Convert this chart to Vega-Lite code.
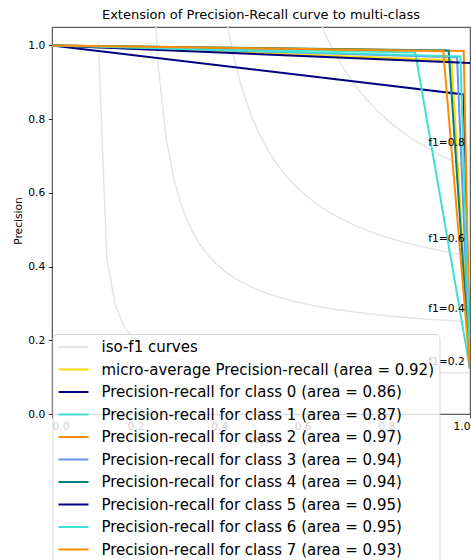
{
  "$schema": "https://vega.github.io/schema/vega-lite/v6.json",
  "width": 418,
  "height": 387,
  "autosize": {"type": "none"},
  "padding": {"left": 52, "top": 27, "right": 1, "bottom": 146},
  "background": "white",
  "title": {"text": "Extension of Precision-Recall curve to multi-class", "fontSize": 13, "fontWeight": "normal", "color": "#000", "anchor": "middle", "frame": "group", "offset": 5},
  "config": {
    "font": "DejaVu Sans",
    "view": {"stroke": "#000", "strokeWidth": 0.8},
    "axis": {"labelFontSize": 10.7, "titleFontSize": 10.7, "titleFontWeight": "normal", "labelColor": "#000", "titleColor": "#000", "tickColor": "#000", "tickWidth": 0.8, "tickSize": 3.7, "labelPadding": 3.5, "domain": false, "grid": false, "titlePadding": 4}
  },
  "datasets": {
    "iso": [
      {"series": "iso-f1 curves", "f": 0.2, "x": 0.1110, "y": 1.0074},
      {"series": "iso-f1 curves", "f": 0.2, "x": 0.1312, "y": 0.4203},
      {"series": "iso-f1 curves", "f": 0.2, "x": 0.1514, "y": 0.2944},
      {"series": "iso-f1 curves", "f": 0.2, "x": 0.1716, "y": 0.2396},
      {"series": "iso-f1 curves", "f": 0.2, "x": 0.1918, "y": 0.2089},
      {"series": "iso-f1 curves", "f": 0.2, "x": 0.2120, "y": 0.1893},
      {"series": "iso-f1 curves", "f": 0.2, "x": 0.2322, "y": 0.1756},
      {"series": "iso-f1 curves", "f": 0.2, "x": 0.2524, "y": 0.1656},
      {"series": "iso-f1 curves", "f": 0.2, "x": 0.2727, "y": 0.1579},
      {"series": "iso-f1 curves", "f": 0.2, "x": 0.2929, "y": 0.1519},
      {"series": "iso-f1 curves", "f": 0.2, "x": 0.3131, "y": 0.1469},
      {"series": "iso-f1 curves", "f": 0.2, "x": 0.3333, "y": 0.1429},
      {"series": "iso-f1 curves", "f": 0.2, "x": 0.3535, "y": 0.1395},
      {"series": "iso-f1 curves", "f": 0.2, "x": 0.3737, "y": 0.1365},
      {"series": "iso-f1 curves", "f": 0.2, "x": 0.3939, "y": 0.1340},
      {"series": "iso-f1 curves", "f": 0.2, "x": 0.4141, "y": 0.1318},
      {"series": "iso-f1 curves", "f": 0.2, "x": 0.4343, "y": 0.1299},
      {"series": "iso-f1 curves", "f": 0.2, "x": 0.4545, "y": 0.1282},
      {"series": "iso-f1 curves", "f": 0.2, "x": 0.4747, "y": 0.1267},
      {"series": "iso-f1 curves", "f": 0.2, "x": 0.4949, "y": 0.1253},
      {"series": "iso-f1 curves", "f": 0.2, "x": 0.5151, "y": 0.1241},
      {"series": "iso-f1 curves", "f": 0.2, "x": 0.5353, "y": 0.1230},
      {"series": "iso-f1 curves", "f": 0.2, "x": 0.5555, "y": 0.1220},
      {"series": "iso-f1 curves", "f": 0.2, "x": 0.5757, "y": 0.1210},
      {"series": "iso-f1 curves", "f": 0.2, "x": 0.5959, "y": 0.1202},
      {"series": "iso-f1 curves", "f": 0.2, "x": 0.6161, "y": 0.1194},
      {"series": "iso-f1 curves", "f": 0.2, "x": 0.6363, "y": 0.1186},
      {"series": "iso-f1 curves", "f": 0.2, "x": 0.6565, "y": 0.1180},
      {"series": "iso-f1 curves", "f": 0.2, "x": 0.6767, "y": 0.1173},
      {"series": "iso-f1 curves", "f": 0.2, "x": 0.6969, "y": 0.1168},
      {"series": "iso-f1 curves", "f": 0.2, "x": 0.7171, "y": 0.1162},
      {"series": "iso-f1 curves", "f": 0.2, "x": 0.7373, "y": 0.1157},
      {"series": "iso-f1 curves", "f": 0.2, "x": 0.7576, "y": 0.1152},
      {"series": "iso-f1 curves", "f": 0.2, "x": 0.7778, "y": 0.1148},
      {"series": "iso-f1 curves", "f": 0.2, "x": 0.7980, "y": 0.1143},
      {"series": "iso-f1 curves", "f": 0.2, "x": 0.8182, "y": 0.1139},
      {"series": "iso-f1 curves", "f": 0.2, "x": 0.8384, "y": 0.1135},
      {"series": "iso-f1 curves", "f": 0.2, "x": 0.8586, "y": 0.1132},
      {"series": "iso-f1 curves", "f": 0.2, "x": 0.8788, "y": 0.1128},
      {"series": "iso-f1 curves", "f": 0.2, "x": 0.8990, "y": 0.1125},
      {"series": "iso-f1 curves", "f": 0.2, "x": 0.9192, "y": 0.1122},
      {"series": "iso-f1 curves", "f": 0.2, "x": 0.9394, "y": 0.1119},
      {"series": "iso-f1 curves", "f": 0.2, "x": 0.9596, "y": 0.1116},
      {"series": "iso-f1 curves", "f": 0.2, "x": 0.9798, "y": 0.1114},
      {"series": "iso-f1 curves", "f": 0.2, "x": 1.0, "y": 0.1111},
      {"series": "iso-f1 curves", "f": 0.4, "x": 0.2322, "y": 1.4407},
      {"series": "iso-f1 curves", "f": 0.4, "x": 0.2524, "y": 0.9626},
      {"series": "iso-f1 curves", "f": 0.4, "x": 0.2727, "y": 0.7506},
      {"series": "iso-f1 curves", "f": 0.4, "x": 0.2929, "y": 0.6308},
      {"series": "iso-f1 curves", "f": 0.4, "x": 0.3131, "y": 0.5538},
      {"series": "iso-f1 curves", "f": 0.4, "x": 0.3333, "y": 0.5001},
      {"series": "iso-f1 curves", "f": 0.4, "x": 0.3535, "y": 0.4606},
      {"series": "iso-f1 curves", "f": 0.4, "x": 0.3737, "y": 0.4303},
      {"series": "iso-f1 curves", "f": 0.4, "x": 0.3939, "y": 0.4063},
      {"series": "iso-f1 curves", "f": 0.4, "x": 0.4141, "y": 0.3868},
      {"series": "iso-f1 curves", "f": 0.4, "x": 0.4343, "y": 0.3707},
      {"series": "iso-f1 curves", "f": 0.4, "x": 0.4545, "y": 0.3572},
      {"series": "iso-f1 curves", "f": 0.4, "x": 0.4747, "y": 0.3456},
      {"series": "iso-f1 curves", "f": 0.4, "x": 0.4949, "y": 0.3356},
      {"series": "iso-f1 curves", "f": 0.4, "x": 0.5151, "y": 0.3269},
      {"series": "iso-f1 curves", "f": 0.4, "x": 0.5353, "y": 0.3193},
      {"series": "iso-f1 curves", "f": 0.4, "x": 0.5555, "y": 0.3125},
      {"series": "iso-f1 curves", "f": 0.4, "x": 0.5757, "y": 0.3065},
      {"series": "iso-f1 curves", "f": 0.4, "x": 0.5959, "y": 0.3010},
      {"series": "iso-f1 curves", "f": 0.4, "x": 0.6161, "y": 0.2961},
      {"series": "iso-f1 curves", "f": 0.4, "x": 0.6363, "y": 0.2917},
      {"series": "iso-f1 curves", "f": 0.4, "x": 0.6565, "y": 0.2876},
      {"series": "iso-f1 curves", "f": 0.4, "x": 0.6767, "y": 0.2839},
      {"series": "iso-f1 curves", "f": 0.4, "x": 0.6969, "y": 0.2805},
      {"series": "iso-f1 curves", "f": 0.4, "x": 0.7171, "y": 0.2774},
      {"series": "iso-f1 curves", "f": 0.4, "x": 0.7373, "y": 0.2744},
      {"series": "iso-f1 curves", "f": 0.4, "x": 0.7576, "y": 0.2717},
      {"series": "iso-f1 curves", "f": 0.4, "x": 0.7778, "y": 0.2692},
      {"series": "iso-f1 curves", "f": 0.4, "x": 0.7980, "y": 0.2669},
      {"series": "iso-f1 curves", "f": 0.4, "x": 0.8182, "y": 0.2647},
      {"series": "iso-f1 curves", "f": 0.4, "x": 0.8384, "y": 0.2627},
      {"series": "iso-f1 curves", "f": 0.4, "x": 0.8586, "y": 0.2607},
      {"series": "iso-f1 curves", "f": 0.4, "x": 0.8788, "y": 0.2589},
      {"series": "iso-f1 curves", "f": 0.4, "x": 0.8990, "y": 0.2572},
      {"series": "iso-f1 curves", "f": 0.4, "x": 0.9192, "y": 0.2556},
      {"series": "iso-f1 curves", "f": 0.4, "x": 0.9394, "y": 0.2541},
      {"series": "iso-f1 curves", "f": 0.4, "x": 0.9596, "y": 0.2527},
      {"series": "iso-f1 curves", "f": 0.4, "x": 0.9798, "y": 0.2513},
      {"series": "iso-f1 curves", "f": 0.4, "x": 1.0, "y": 0.25},
      {"series": "iso-f1 curves", "f": 0.6, "x": 0.3939, "y": 1.2587},
      {"series": "iso-f1 curves", "f": 0.6, "x": 0.4141, "y": 1.0889},
      {"series": "iso-f1 curves", "f": 0.6, "x": 0.4343, "y": 0.9702},
      {"series": "iso-f1 curves", "f": 0.6, "x": 0.4545, "y": 0.8826},
      {"series": "iso-f1 curves", "f": 0.6, "x": 0.4747, "y": 0.8152},
      {"series": "iso-f1 curves", "f": 0.6, "x": 0.4949, "y": 0.7618},
      {"series": "iso-f1 curves", "f": 0.6, "x": 0.5151, "y": 0.7184},
      {"series": "iso-f1 curves", "f": 0.6, "x": 0.5353, "y": 0.6825},
      {"series": "iso-f1 curves", "f": 0.6, "x": 0.5555, "y": 0.6522},
      {"series": "iso-f1 curves", "f": 0.6, "x": 0.5757, "y": 0.6264},
      {"series": "iso-f1 curves", "f": 0.6, "x": 0.5959, "y": 0.6041},
      {"series": "iso-f1 curves", "f": 0.6, "x": 0.6161, "y": 0.5847},
      {"series": "iso-f1 curves", "f": 0.6, "x": 0.6363, "y": 0.5676},
      {"series": "iso-f1 curves", "f": 0.6, "x": 0.6565, "y": 0.5524},
      {"series": "iso-f1 curves", "f": 0.6, "x": 0.6767, "y": 0.5389},
      {"series": "iso-f1 curves", "f": 0.6, "x": 0.6969, "y": 0.5267},
      {"series": "iso-f1 curves", "f": 0.6, "x": 0.7171, "y": 0.5158},
      {"series": "iso-f1 curves", "f": 0.6, "x": 0.7373, "y": 0.5058},
      {"series": "iso-f1 curves", "f": 0.6, "x": 0.7576, "y": 0.4967},
      {"series": "iso-f1 curves", "f": 0.6, "x": 0.7778, "y": 0.4884},
      {"series": "iso-f1 curves", "f": 0.6, "x": 0.7980, "y": 0.4807},
      {"series": "iso-f1 curves", "f": 0.6, "x": 0.8182, "y": 0.4737},
      {"series": "iso-f1 curves", "f": 0.6, "x": 0.8384, "y": 0.4672},
      {"series": "iso-f1 curves", "f": 0.6, "x": 0.8586, "y": 0.4611},
      {"series": "iso-f1 curves", "f": 0.6, "x": 0.8788, "y": 0.4555},
      {"series": "iso-f1 curves", "f": 0.6, "x": 0.8990, "y": 0.4503},
      {"series": "iso-f1 curves", "f": 0.6, "x": 0.9192, "y": 0.4454},
      {"series": "iso-f1 curves", "f": 0.6, "x": 0.9394, "y": 0.4408},
      {"series": "iso-f1 curves", "f": 0.6, "x": 0.9596, "y": 0.4365},
      {"series": "iso-f1 curves", "f": 0.6, "x": 0.9798, "y": 0.4324},
      {"series": "iso-f1 curves", "f": 0.6, "x": 1.0, "y": 0.4286},
      {"series": "iso-f1 curves", "f": 0.8, "x": 0.6161, "y": 1.1403},
      {"series": "iso-f1 curves", "f": 0.8, "x": 0.6363, "y": 1.0770},
      {"series": "iso-f1 curves", "f": 0.8, "x": 0.6565, "y": 1.0237},
      {"series": "iso-f1 curves", "f": 0.8, "x": 0.6767, "y": 0.9782},
      {"series": "iso-f1 curves", "f": 0.8, "x": 0.6969, "y": 0.9388},
      {"series": "iso-f1 curves", "f": 0.8, "x": 0.7171, "y": 0.9045},
      {"series": "iso-f1 curves", "f": 0.8, "x": 0.7373, "y": 0.8743},
      {"series": "iso-f1 curves", "f": 0.8, "x": 0.7576, "y": 0.8475},
      {"series": "iso-f1 curves", "f": 0.8, "x": 0.7778, "y": 0.8236},
      {"series": "iso-f1 curves", "f": 0.8, "x": 0.7980, "y": 0.8021},
      {"series": "iso-f1 curves", "f": 0.8, "x": 0.8182, "y": 0.7826},
      {"series": "iso-f1 curves", "f": 0.8, "x": 0.8384, "y": 0.7650},
      {"series": "iso-f1 curves", "f": 0.8, "x": 0.8586, "y": 0.7489},
      {"series": "iso-f1 curves", "f": 0.8, "x": 0.8788, "y": 0.7342},
      {"series": "iso-f1 curves", "f": 0.8, "x": 0.8990, "y": 0.7206},
      {"series": "iso-f1 curves", "f": 0.8, "x": 0.9192, "y": 0.7082},
      {"series": "iso-f1 curves", "f": 0.8, "x": 0.9394, "y": 0.6966},
      {"series": "iso-f1 curves", "f": 0.8, "x": 0.9596, "y": 0.6859},
      {"series": "iso-f1 curves", "f": 0.8, "x": 0.9798, "y": 0.6760},
      {"series": "iso-f1 curves", "f": 0.8, "x": 1.0, "y": 0.6667}
    ],
    "pr": [
      {"series": "micro-average Precision-recall (area = 0.92)", "x": 0, "y": 1},
      {"series": "micro-average Precision-recall (area = 0.92)", "x": 0.956, "y": 0.96},
      {"series": "micro-average Precision-recall (area = 0.92)", "x": 1, "y": 0.122},
      {"series": "Precision-recall for class 0 (area = 0.86)", "x": 0, "y": 1},
      {"series": "Precision-recall for class 0 (area = 0.86)", "x": 0.985, "y": 0.867},
      {"series": "Precision-recall for class 0 (area = 0.86)", "x": 1, "y": 0.122},
      {"series": "Precision-recall for class 1 (area = 0.87)", "x": 0, "y": 1},
      {"series": "Precision-recall for class 1 (area = 0.87)", "x": 0.869, "y": 0.981},
      {"series": "Precision-recall for class 1 (area = 0.87)", "x": 1, "y": 0.122},
      {"series": "Precision-recall for class 2 (area = 0.97)", "x": 0, "y": 1},
      {"series": "Precision-recall for class 2 (area = 0.97)", "x": 0.985, "y": 0.985},
      {"series": "Precision-recall for class 2 (area = 0.97)", "x": 1, "y": 0.122},
      {"series": "Precision-recall for class 3 (area = 0.94)", "x": 0, "y": 1},
      {"series": "Precision-recall for class 3 (area = 0.94)", "x": 0.969, "y": 0.968},
      {"series": "Precision-recall for class 3 (area = 0.94)", "x": 1, "y": 0.122},
      {"series": "Precision-recall for class 4 (area = 0.94)", "x": 0, "y": 1},
      {"series": "Precision-recall for class 4 (area = 0.94)", "x": 0.949, "y": 0.986},
      {"series": "Precision-recall for class 4 (area = 0.94)", "x": 1, "y": 0.122},
      {"series": "Precision-recall for class 5 (area = 0.95)", "x": 0, "y": 1},
      {"series": "Precision-recall for class 5 (area = 0.95)", "x": 1, "y": 0.952},
      {"series": "Precision-recall for class 6 (area = 0.95)", "x": 0, "y": 1},
      {"series": "Precision-recall for class 6 (area = 0.95)", "x": 0.977, "y": 0.97},
      {"series": "Precision-recall for class 6 (area = 0.95)", "x": 1, "y": 0.122},
      {"series": "Precision-recall for class 7 (area = 0.93)", "x": 0, "y": 1},
      {"series": "Precision-recall for class 7 (area = 0.93)", "x": 0.936, "y": 0.985},
      {"series": "Precision-recall for class 7 (area = 0.93)", "x": 1, "y": 0.122}
    ],
    "lab": [
      {"x": 0.9, "y": 0.1322, "t": "f1=0.2"},
      {"x": 0.9, "y": 0.2756, "t": "f1=0.4"},
      {"x": 0.9, "y": 0.4654, "t": "f1=0.6"},
      {"x": 0.9, "y": 0.7282, "t": "f1=0.8"}
    ]
  },
  "layer": [
    {
      "data": {"name": "iso"},
      "mark": {"type": "line", "strokeWidth": 1.5, "clip": true},
      "encoding": {
        "x": {"field": "x", "type": "quantitative", "scale": {"domain": [0, 1], "nice": false, "zero": false}, "axis": {"title": "Recall", "values": [0, 0.2, 0.4, 0.6, 0.8, 1], "format": ".1f"}},
        "y": {"field": "y", "type": "quantitative", "scale": {"domain": [0, 1.05], "nice": false, "zero": false}, "axis": {"title": "Precision", "values": [0, 0.2, 0.4, 0.6, 0.8, 1], "format": ".1f"}},
        "detail": {"field": "f", "type": "nominal"},
        "color": {
          "field": "series", "type": "nominal",
          "scale": {
            "domain": ["iso-f1 curves", "micro-average Precision-recall (area = 0.92)", "Precision-recall for class 0 (area = 0.86)", "Precision-recall for class 1 (area = 0.87)", "Precision-recall for class 2 (area = 0.97)", "Precision-recall for class 3 (area = 0.94)", "Precision-recall for class 4 (area = 0.94)", "Precision-recall for class 5 (area = 0.95)", "Precision-recall for class 6 (area = 0.95)", "Precision-recall for class 7 (area = 0.93)"],
            "range": ["#e5e5e5", "#ffd700", "#000080", "#40e0d0", "#ff8c00", "#6495ed", "#008080", "#000080", "#40e0d0", "#ff8c00"]
          },
          "legend": {"title": null, "orient": "none", "legendX": 0.5, "legendY": 307, "symbolType": "stroke", "symbolSize": 900, "symbolStrokeWidth": 2, "labelFontSize": 15, "labelColor": "#000", "labelLimit": 800, "labelOffset": 12, "rowPadding": 6.5, "clipHeight": 16, "padding": 5, "fillColor": "rgba(255,255,255,0.8)", "strokeColor": "rgba(204,204,204,0.8)", "cornerRadius": 4, "symbolOffset": 0}
        }
      }
    },
    {
      "data": {"name": "pr"},
      "mark": {"type": "line", "strokeWidth": 2, "clip": true},
      "encoding": {
        "x": {"field": "x", "type": "quantitative"},
        "y": {"field": "y", "type": "quantitative"},
        "color": {"field": "series", "type": "nominal"}
      }
    },
    {
      "data": {"name": "lab"},
      "mark": {"type": "text", "align": "left", "baseline": "alphabetic", "fontSize": 10.7, "color": "#000"},
      "encoding": {
        "x": {"field": "x", "type": "quantitative"},
        "y": {"field": "y", "type": "quantitative"},
        "text": {"field": "t"}
      }
    }
  ]
}
